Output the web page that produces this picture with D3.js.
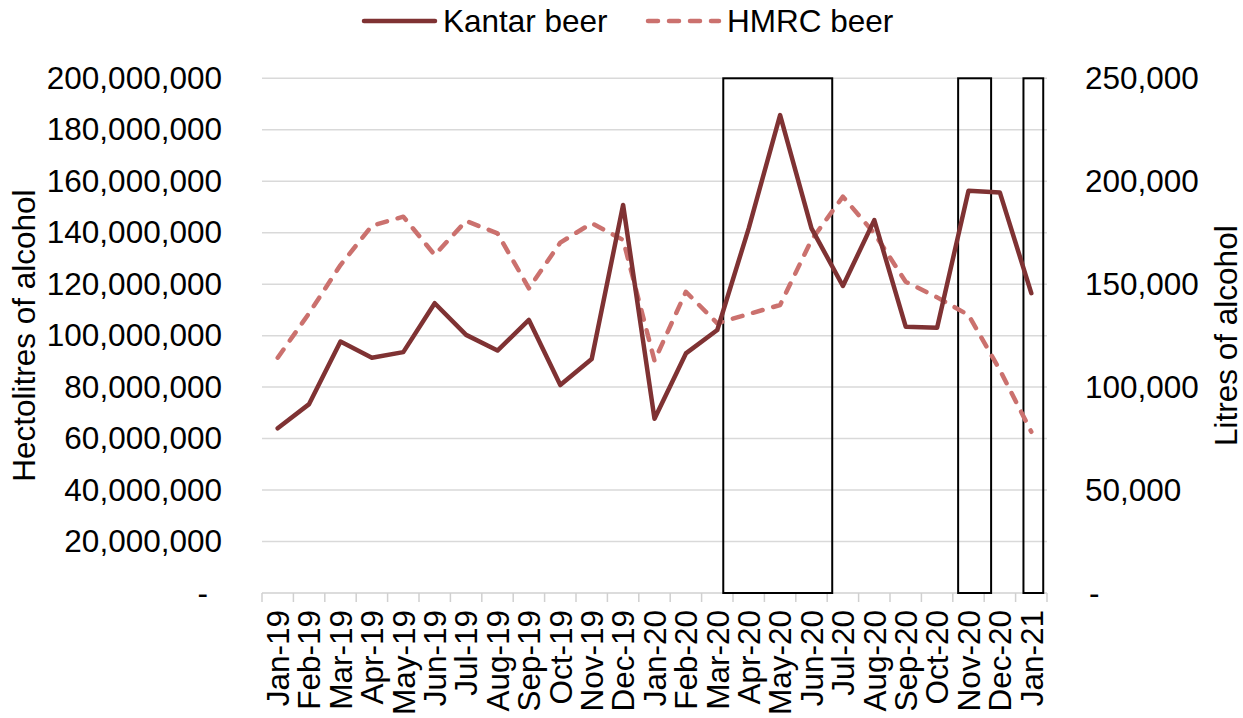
<!DOCTYPE html>
<html>
<head>
<meta charset="utf-8">
<script src="https://cdn.jsdelivr.net/npm/d3@7"></script>
<style>
  body { margin: 0; background: #fff; }
  text { font-family: "Liberation Sans", Arial, sans-serif; fill: #000; }
</style>
</head>
<body>
<div id="chart"></div>
<script>
'use strict';

// months on the category axis
var months = ['Jan-19','Feb-19','Mar-19','Apr-19','May-19','Jun-19','Jul-19','Aug-19','Sep-19','Oct-19','Nov-19','Dec-19',
              'Jan-20','Feb-20','Mar-20','Apr-20','May-20','Jun-20','Jul-20','Aug-20','Sep-20','Oct-20','Nov-20','Dec-20','Jan-21'];

// Kantar beer, hectolitres of alcohol (left axis)
var kantar = [64.0e6, 73.4e6, 97.7e6, 91.4e6, 93.6e6, 112.6e6, 100.3e6, 94.2e6, 106.1e6, 80.8e6, 90.9e6, 150.8e6,
              67.7e6, 93.1e6, 102.2e6, 141.7e6, 185.7e6, 141.7e6, 119.3e6, 144.9e6, 103.5e6, 103.1e6, 156.3e6, 155.6e6, 116.5e6];

// HMRC beer, litres of alcohol (right axis)
var hmrc = [114300, 135900, 159300, 178400, 182800, 164200, 180700, 174700, 148000, 170200, 179600, 171500,
            112800, 146300, 131000, 135500, 139900, 171500, 192500, 174700, 151200, 143600, 135000, 108300, 78300];

var leftTicks = [0, 20e6, 40e6, 60e6, 80e6, 100e6, 120e6, 140e6, 160e6, 180e6, 200e6];
var rightTicks = [0, 50000, 100000, 150000, 200000, 250000];

// highlighted periods, in category units from the start of the axis
var boxes = [[14.69, 18.16], [22.17, 23.22], [24.25, 24.88]];

var seriesNames = ['Kantar beer', 'HMRC beer'];
var colKantar = '#7f3233';
var colHmrc = '#cb716e';

var W = 1243, H = 718;
var margin = {top: 78.3, right: 196, bottom: 125, left: 262};
var cw = W - margin.left - margin.right;
var ch = H - margin.top - margin.bottom;
var fs = 31.5;

var svg = d3.select('#chart').append('svg')
    .attr('width', W)
    .attr('height', H);

var g = svg.append('g')
    .attr('transform', 'translate(' + margin.left + ',' + margin.top + ')');

var x = d3.scaleBand().domain(months).range([0, cw]);
var xIdx = d3.scaleLinear().domain([0, months.length]).range([0, cw]);
var yL = d3.scaleLinear().domain([0, 200e6]).range([ch, 0]);
var yR = d3.scaleLinear().domain([0, 250000]).range([ch, 0]);

var fmt = d3.format(',');

// gridlines
g.append('g')
    .selectAll('line')
    .data(leftTicks.slice(1))
    .enter()
    .append('line')
    .attr('x1', 0)
    .attr('x2', cw)
    .attr('y1', function(d){ return yL(d); })
    .attr('y2', function(d){ return yL(d); })
    .style('stroke', '#d9d9d9')
    .style('stroke-width', 1.5);

// left axis
var yAxisL = d3.axisLeft(yL).tickValues(leftTicks).tickSize(0).tickPadding(40)
    .tickFormat(function(d){ return d === 0 ? '-' : fmt(d); });
var gl = g.append('g').call(yAxisL);
gl.select('.domain').remove();
gl.selectAll('text').style('font-size', fs + 'px')
    .attr('dx', function(d){ return d === 0 ? '-14' : '0'; });

// right axis
var yAxisR = d3.axisRight(yR).tickValues(rightTicks).tickSize(0).tickPadding(38)
    .tickFormat(function(d){ return d === 0 ? '-' : fmt(d); });
var gr = g.append('g').attr('transform', 'translate(' + cw + ',0)').call(yAxisR);
gr.select('.domain').remove();
gr.selectAll('text').style('font-size', fs + 'px')
    .attr('dx', function(d){ return d === 0 ? '4' : '0'; });

// bottom axis: line + ticks on band edges
var gx = g.append('g').attr('transform', 'translate(0,' + ch + ')');
gx.append('line')
    .attr('x1', 0).attr('x2', cw)
    .style('stroke', '#d0d0d0').style('stroke-width', 1.5);
gx.selectAll('line.tk')
    .data(d3.range(months.length + 1))
    .enter()
    .append('line')
    .attr('class', 'tk')
    .attr('x1', function(d){ return xIdx(d); })
    .attr('x2', function(d){ return xIdx(d); })
    .attr('y1', 0).attr('y2', 9)
    .style('stroke', '#d0d0d0').style('stroke-width', 1.5);
gx.selectAll('text')
    .data(months)
    .enter()
    .append('text')
    .attr('transform', function(d){ return 'translate(' + (x(d) + x.bandwidth() / 2) + ',17) rotate(-90)'; })
    .attr('dy', '0.36em')
    .style('text-anchor', 'end')
    .style('font-size', fs + 'px')
    .text(function(d){ return d; });

// boxes around the lockdown periods
g.append('g')
    .selectAll('rect')
    .data(boxes)
    .enter()
    .append('rect')
    .attr('x', function(d){ return xIdx(d[0]); })
    .attr('y', yL(200e6))
    .attr('width', function(d){ return xIdx(d[1]) - xIdx(d[0]); })
    .attr('height', yL(0) - yL(200e6))
    .style('fill', 'none')
    .style('stroke', '#000')
    .style('stroke-width', 2);

// series
var lineL = d3.line()
    .x(function(d, i){ return x(months[i]) + x.bandwidth() / 2; })
    .y(function(d){ return yL(d); });
var lineR = d3.line()
    .x(function(d, i){ return x(months[i]) + x.bandwidth() / 2; })
    .y(function(d){ return yR(d); });

g.append('path')
    .datum(hmrc)
    .attr('d', lineR)
    .style('fill', 'none')
    .style('stroke', colHmrc)
    .style('stroke-width', 4.5)
    .style('stroke-linecap', 'round')
    .style('stroke-linejoin', 'round')
    .style('stroke-dasharray', '10 11');

g.append('path')
    .datum(kantar)
    .attr('d', lineL)
    .style('fill', 'none')
    .style('stroke', colKantar)
    .style('stroke-width', 4.5)
    .style('stroke-linejoin', 'round')
    .style('stroke-linecap', 'round');

// axis titles
svg.append('text')
    .attr('transform', 'translate(24,' + (margin.top + ch / 2) + ') rotate(-90)')
    .attr('dy', '0.36em')
    .style('text-anchor', 'middle')
    .style('font-size', fs + 'px')
    .text('Hectolitres of alcohol');

svg.append('text')
    .attr('transform', 'translate(1226,' + (margin.top + ch / 2) + ') rotate(-90)')
    .attr('dy', '0.36em')
    .style('text-anchor', 'middle')
    .style('font-size', fs + 'px')
    .text('Litres of alcohol');

// legend
var legend = svg.append('g');
var legX = [364, 648];
seriesNames.forEach(function(name, i) {
    legend.append('line')
        .attr('x1', legX[i]).attr('x2', legX[i] + 71)
        .attr('y1', 21).attr('y2', 21)
        .style('stroke', i === 0 ? colKantar : colHmrc)
        .style('stroke-width', 4.5)
        .style('stroke-linecap', 'round')
        .style('stroke-dasharray', i === 0 ? null : '10 11');
    legend.append('text')
        .attr('x', legX[i] + 79)
        .attr('y', 21)
        .attr('dy', '0.36em')
        .style('font-size', fs + 'px')
        .text(name);
});
</script>
</body>
</html>
